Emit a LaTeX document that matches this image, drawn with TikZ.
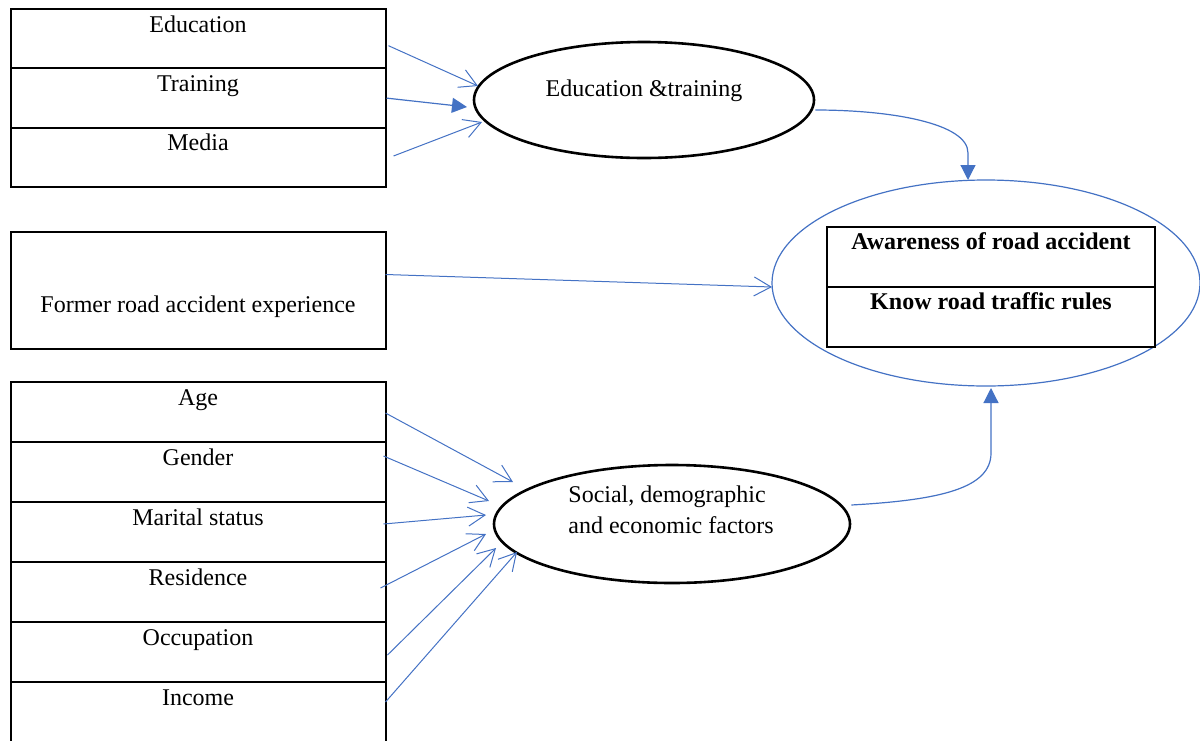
\documentclass[tikz,border=0pt]{standalone}
\usepackage{fontspec}
\setmainfont{Liberation Serif}
\usetikzlibrary{positioning,shapes.geometric,arrows.meta}
\definecolor{lnkblue}{HTML}{4472C4}
\tikzset{
  row/.style={draw, line width=1pt, outer sep=0pt, inner ysep=0pt,
    minimum width=187.5pt, text height=11.5pt, text depth=#1},
  row/.default=18.5pt,
  ell/.style={ellipse, draw, line width=1.3pt, inner sep=0pt},
  link/.style={draw=lnkblue, line width=0.5pt, -{Straight Barb[length=8.5pt,width=9.5pt]}},
  flow/.style={draw=lnkblue, line width=0.6pt, -{Triangle[length=7.5pt,width=7.5pt]}}
}
\begin{document}
\begin{tikzpicture}[x=0.5pt,y=-0.5pt,font=\fontsize{12}{14}\selectfont]
  \useasboundingbox (0,0) rectangle (1200,740);
  % left boxes
  \node[row=18.2pt, anchor=north] (educ) at (198,9) {Education};
  \node[row=18.2pt, below=0pt of educ] (train) {Training};
  \node[row=18.2pt, below=0pt of train] (media) {Media};
  \node[row, text height=40pt, anchor=north] (former) at (198,232) {Former road accident experience};
  \node[row, anchor=north] (age) at (198,382) {Age};
  \node[row, below=0pt of age] (gender) {Gender};
  \node[row, below=0pt of gender] (marital) {Marital status};
  \node[row, below=0pt of marital] (resid) {Residence};
  \node[row, below=0pt of resid] (occup) {Occupation};
  \node[row, below=0pt of occup] (income) {Income};
  % ellipses
  \node[ell, minimum width=170pt, minimum height=58pt] (edtr) at (644,100) {};
  \node[anchor=base] (edtrtxt) at (644,96) {Education \&training};
  \node[ell, minimum width=178pt, minimum height=59pt] (soc) at (672,524) {};
  \node[align=left, anchor=base west, inner sep=0pt] (soctxt) at (568,533) {Social, demographic\\[1.5pt]and economic factors};
  \node[ell, draw=lnkblue, line width=0.6pt, minimum width=214pt, minimum height=103pt] (outcome) at (986,283) {};
  \node[row=19pt, text height=11pt, minimum width=164pt, font=\fontsize{12}{14}\selectfont\bfseries, anchor=north] (aware) at (991,227) {Awareness of road accident};
  \node[row=19pt, text height=11pt, minimum width=164pt, font=\fontsize{12}{14}\selectfont\bfseries, below=0pt of aware] (rules) {Know road traffic rules};
  % arrows
  \draw[link] ([shift={(3,7)}]educ.east) -- ([shift={(-166,-14)}]edtr.center);
  \draw[flow] ([shift={(1,0)}]train.east) -- ([shift={(-177,7)}]edtr.center);
  \draw[link] ([shift={(8,-1.5)}]media.east) -- ([shift={(-162,22)}]edtr.center);
  \draw[link] ([shift={(0,-16)}]former.east) -- ([shift={(-214,4)}]outcome.center);
  \draw[link] ([shift={(0,1)}]age.east) -- ([shift={(-159,-42)}]soc.center);
  \draw[link] ([shift={(-2,-16)}]gender.east) -- ([shift={(-183,-23)}]soc.center);
  \draw[link] ([shift={(-2,-8)}]marital.east) -- ([shift={(-186,-9)}]soc.center);
  \draw[link] ([shift={(-5,-4)}]resid.east) -- ([shift={(-186,10)}]soc.center);
  \draw[link] ([shift={(2,3)}]occup.east) -- ([shift={(-176,24)}]soc.center);
  \draw[link] ([shift={(0,-10)}]income.east) -- ([shift={(-155,28)}]soc.center);
  \draw[flow] ([shift={(0,10)}]edtr.east) .. controls +(75,0) and +(0,-30) .. ([shift={(-18,-130)}]outcome.center) -- ([shift={(-18,-103)}]outcome.center);
  \draw[flow] ([shift={(0,-19)}]soc.east) .. controls +(90,-5) and +(0,35) .. ([shift={(5,170)}]outcome.center) -- ([shift={(5,105)}]outcome.center);
\end{tikzpicture}
\end{document}
